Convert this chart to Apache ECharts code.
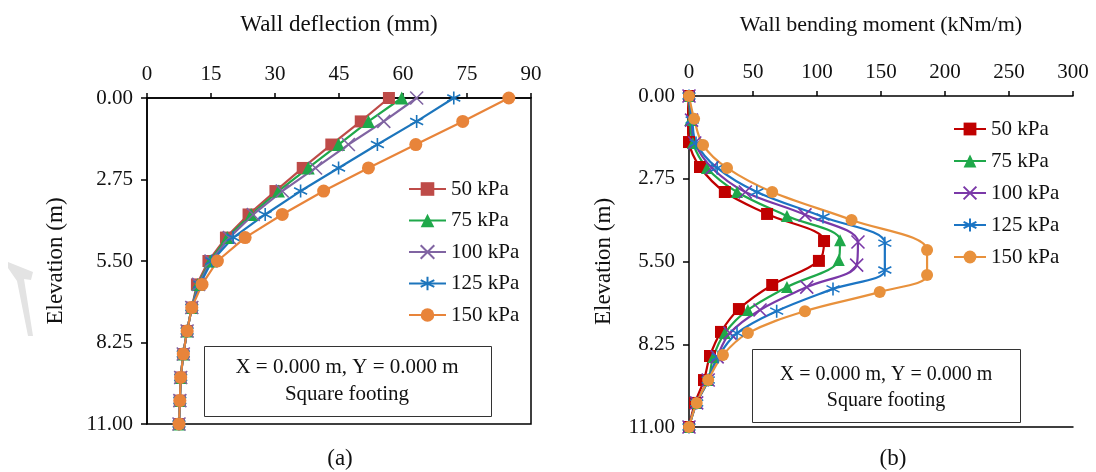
<!DOCTYPE html>
<html>
<head>
<meta charset="utf-8">
<script src="https://cdn.jsdelivr.net/npm/echarts@6/dist/echarts.min.js"></script>
<style>
  html, body { margin: 0; padding: 0; background: #fff; }
  #chart { width: 1096px; height: 472px; }
</style>
</head>
<body>
<div id="chart"></div>
<script>
// load cases
const loads = ['50 kPa', '75 kPa', '100 kPa', '125 kPa', '150 kPa'];

// (a) wall deflection, mm, against elevation (m)
const elevA = [0, 0.79, 1.57, 2.36, 3.14, 3.93, 4.71, 5.5, 6.29, 7.07, 7.86, 8.64, 9.43, 10.21, 11];
const defl50 = [56.7, 50.1, 43.2, 36.5, 30.1, 23.8, 18.5, 14.4, 11.7, 10.5, 9.4, 8.5, 7.9, 7.7, 7.5];
const defl75 = [59.7, 51.9, 44.9, 37.8, 30.8, 24.4, 18.8, 14.8, 11.9, 10.5, 9.4, 8.5, 7.9, 7.7, 7.5];
const defl100 = [63.2, 55.5, 47.2, 39.5, 31.7, 24.9, 19.3, 15.0, 12.1, 10.5, 9.4, 8.5, 7.9, 7.7, 7.5];
const defl125 = [71.9, 63.2, 54.0, 44.9, 36.0, 27.7, 20.2, 15.2, 12.4, 10.5, 9.4, 8.5, 7.9, 7.7, 7.5];
const defl150 = [84.8, 74.0, 63.0, 51.9, 41.4, 31.7, 23.0, 16.5, 12.9, 10.5, 9.4, 8.5, 7.9, 7.7, 7.5];

// (b) wall bending moment, kNm/m, against elevation (m)
const elevB50 = [0, 0.76, 1.53, 2.36, 3.19, 3.92, 4.82, 5.48, 6.28, 7.08, 7.84, 8.64, 9.44, 10.2, 11];
const elevB75 = [0, 0.8, 1.56, 2.39, 3.19, 3.99, 4.79, 5.45, 6.35, 7.11, 7.88, 8.67, 9.44, 10.2, 11];
const elevB100 = [0, 0.8, 1.56, 2.39, 3.19, 3.95, 4.85, 5.62, 6.35, 7.11, 7.88, 8.67, 9.44, 10.2, 11];
const elevB125 = [0, 0.8, 1.56, 2.39, 3.19, 4.02, 4.89, 5.78, 6.41, 7.15, 7.88, 8.67, 9.44, 10.2, 11];
const elevB150 = [0, 0.76, 1.63, 2.39, 3.19, 4.12, 5.12, 5.95, 6.51, 7.15, 7.88, 8.61, 9.44, 10.2, 11];
const mom50 = [0, -1, 0, 8.6, 28, 61, 105.5, 101.5, 65, 39, 25, 16.4, 11.7, 4.7, 0];
const mom75 = [0, 1, 3, 14, 37.5, 76.5, 118, 117, 76.5, 46, 28, 19, 15, 6, 0];
const mom100 = [0, 2, 4.5, 18, 44, 90.6, 132, 131, 92, 55.5, 32, 22, 15, 6, 0];
const mom125 = [0, 2.5, 5.5, 22, 53, 104.7, 153, 153, 112.5, 68.5, 37.5, 22.7, 15, 6, 0];
const mom150 = [0, 4, 11, 29.7, 65, 127, 186, 186, 149, 90.6, 46, 26.5, 15, 6, 0];

const FONT = '"Liberation Serif", "Times New Roman", serif';
const CROSS = 'path://M0,0L10,10M10,0L0,10';
const STAR = 'path://M5,0L5,10M0.7,2.5L9.3,7.5M0.7,7.5L9.3,2.5';
const symbols = ['rect', 'triangle', CROSS, STAR, 'circle'];
const sizesA = [12, 13, 13, 13, 13];
const sizesB = [12, 12, 13, 13, 12];
const colA = ['#BE4B48', '#1FA84A', '#8064A2', '#1C75BC', '#E8843A'];
const colB = ['#C00000', '#1FA84A', '#7A38A8', '#1C75C4', '#E8913C'];

function pairs(xs, ys) {
  return xs.map((v, i) => [v, ys[i]]);
}

const deflA = [defl50, defl75, defl100, defl125, defl150];
const momB = [mom50, mom75, mom100, mom125, mom150];
const elevB = [elevB50, elevB75, elevB100, elevB125, elevB150];

let series = [];
loads.forEach((name, i) => {
  series.push({
    name: name, type: 'line', xAxisIndex: 0, yAxisIndex: 0,
    data: pairs(deflA[i], elevA),
    symbol: symbols[i], symbolSize: sizesA[i],
    lineStyle: { color: colA[i], width: 2.2 },
    itemStyle: { color: colA[i], borderColor: colA[i], borderWidth: (i == 2 || i == 3) ? 1.6 : 0 },
    animation: false
  });
});
loads.forEach((name, i) => {
  series.push({
    name: name, type: 'line', xAxisIndex: 1, yAxisIndex: 1,
    data: pairs(momB[i], elevB[i]),
    smooth: 0.35,
    symbol: symbols[i], symbolSize: sizesB[i],
    lineStyle: { color: colB[i], width: 2.2 },
    itemStyle: { color: colB[i], borderColor: colB[i], borderWidth: (i == 2 || i == 3) ? 1.6 : 0 },
    animation: false
  });
});

const axisText = { color: '#111', fontFamily: FONT, fontSize: 21 };
const blackLine = { show: true, lineStyle: { color: '#000', width: 1.5 } };

function yAxisFor(grid, gap) {
  return {
    type: 'value', gridIndex: grid, inverse: true,
    min: 0, max: 11, interval: 2.75,
    name: 'Elevation (m)', nameLocation: 'middle', nameGap: gap,
    nameTextStyle: { color: '#111', fontFamily: FONT, fontSize: 23 },
    axisLine: blackLine,
    axisTick: { show: true, inside: false, length: 6, lineStyle: { color: '#000', width: 1.5 } },
    axisLabel: Object.assign({ margin: 14, formatter: v => v.toFixed(2) }, axisText),
    splitLine: { show: false }
  };
}

const option = {
  backgroundColor: '#ffffff',
  animation: false,
  grid: [
    { left: 147, right: 565, top: 98, bottom: 48, show: true, borderColor: '#000', borderWidth: 1.5 },
    { left: 689, right: 23, top: 96, bottom: 45 }
  ],
  xAxis: [{
    type: 'value', gridIndex: 0, position: 'top',
    min: 0, max: 90, interval: 15,
    name: 'Wall deflection (mm)', nameLocation: 'middle', nameGap: 62,
    nameTextStyle: { color: '#111', fontFamily: FONT, fontSize: 23 },
    axisLine: blackLine,
    axisTick: { show: true, inside: false, length: 5, lineStyle: { color: '#000', width: 1.5 } },
    axisLabel: Object.assign({ margin: 13 }, axisText),
    splitLine: { show: false }
  }, {
    type: 'value', gridIndex: 1, position: 'top',
    min: 0, max: 300, interval: 50,
    name: 'Wall bending moment (kNm/m)', nameLocation: 'middle', nameGap: 60,
    nameTextStyle: { color: '#111', fontFamily: FONT, fontSize: 22 },
    axisLine: blackLine,
    axisTick: { show: true, inside: false, length: 5, lineStyle: { color: '#000', width: 1.5 } },
    axisLabel: Object.assign({ margin: 13 }, axisText),
    splitLine: { show: false }
  }, {
    // bottom frame line of (b)
    type: 'value', gridIndex: 1, position: 'bottom',
    min: 0, max: 300,
    axisLine: blackLine, axisTick: { show: false }, axisLabel: { show: false },
    splitLine: { show: false }
  }],
  yAxis: [yAxisFor(0, 80), yAxisFor(1, 74)],
  legend: [{
    left: 403, top: 173, orient: 'vertical',
    itemWidth: 37, itemHeight: 17, itemGap: 9.5,
    selectedMode: false,
    textStyle: { color: '#111', fontFamily: FONT, fontSize: 21, lineHeight: 22 },
    data: loads.map((n, i) => ({ name: n, itemStyle: { color: colA[i], borderColor: colA[i] }, lineStyle: { color: colA[i] } }))
  }, {
    left: 948, top: 113, orient: 'vertical',
    itemWidth: 32, itemHeight: 16, itemGap: 10,
    selectedMode: false,
    textStyle: { color: '#111', fontFamily: FONT, fontSize: 21, lineHeight: 22 },
    data: loads.map((n, i) => ({ name: n, itemStyle: { color: colB[i], borderColor: colB[i] }, lineStyle: { color: colB[i] } }))
  }],
  graphic: [
    {
      type: 'rect', left: 204, top: 346, z: 10,
      shape: { width: 287, height: 70 },
      style: { fill: '#fff', stroke: '#333', lineWidth: 1 }
    },
    {
      type: 'text', z: 11,
      style: { x: 347, y: 381, text: 'X = 0.000 m, Y = 0.000 m\nSquare footing', align: 'center', verticalAlign: 'middle',
        fontFamily: FONT, fontSize: 21, lineHeight: 27, fill: '#111' }
    },
    {
      type: 'rect', left: 752, top: 349, z: 10,
      shape: { width: 268, height: 73 },
      style: { fill: '#fff', stroke: '#333', lineWidth: 1 }
    },
    {
      type: 'text', z: 11,
      style: { x: 886, y: 388, text: 'X = 0.000 m, Y = 0.000 m\nSquare footing', align: 'center', verticalAlign: 'middle',
        fontFamily: FONT, fontSize: 20, lineHeight: 26, fill: '#111' }
    },
    {
      type: 'text',
      style: { x: 340, y: 459, text: '(a)', align: 'center', verticalAlign: 'middle', fontFamily: FONT, fontSize: 23, fill: '#111' }
    },
    {
      type: 'text',
      style: { x: 893, y: 459, text: '(b)', align: 'center', verticalAlign: 'middle', fontFamily: FONT, fontSize: 23, fill: '#111' }
    },
    {
      // faint grey mark on the left margin
      type: 'polygon', z: 0,
      shape: { points: [[8, 262], [33, 272], [31, 280], [24, 279], [33, 336], [28, 336], [17, 281], [8, 268]] },
      style: { fill: '#e3e3e3' }
    }
  ],
  series: series
};

const chart = echarts.init(document.getElementById('chart'));
chart.setOption(option);
</script>
</body>
</html>
